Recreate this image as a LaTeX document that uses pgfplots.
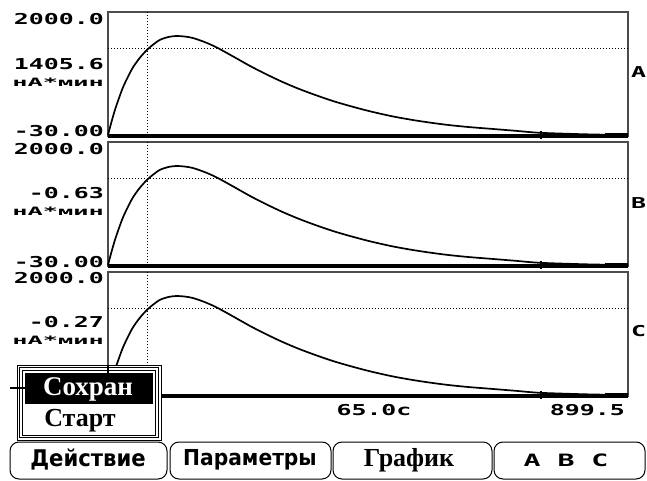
\documentclass[border=0pt]{standalone}
\usepackage{fontspec}
\usepackage{pgfplots}
\usepackage{pgfplotstable}
\pgfplotsset{compat=1.18}
\setmainfont{DejaVu Sans}
\newfontfamily\lcd[FakeStretch=1.66]{DejaVu Sans Mono}
\newfontfamily\lcdsmall[FakeStretch=2.2]{DejaVu Sans Mono}
\newfontfamily\menuserif{Liberation Serif}
\newfontfamily\menusans[FakeStretch=0.92]{DejaVu Sans}

\pgfplotstableread{
x y
0 -12
6 200
12 396
19 590
26 767
34 930
43 1090
55 1250
68 1385
80 1480
90 1545
104 1590
119 1607
133 1598
147 1574
168 1505
188 1420
215 1280
246 1115
275 975
303 850
332 735
362 630
390 540
419 460
453 375
493 290
535 220
580 160
620 120
666 85
705 55
742 25
790 8
839 -5
899.5 -14
}\curve

\pgfplotsset{panel/.style={
  width=520pt, height=124pt, scale only axis,
  xmin=0, xmax=899.5, ymin=-30, ymax=2000,
  xtick=\empty, ytick=\empty,
  axis line style={line width=1.6pt, color=black!70},
  clip=false,
}}

\tikzset{dots/.style={line width=1pt, dash pattern=on 1pt off 2pt, black}}

\newcommand{\panelcontent}{%
  \draw[dots] (axis cs:69,-30) -- (axis cs:69,2000);
  \draw[dots] (axis cs:0,1405.6) -- (axis cs:899.5,1405.6);
  \addplot[black, line width=1.7pt, smooth, tension=0.5] table[x=x,y=y] {\curve};
  \addplot[black, line width=3.5pt, forget plot] coordinates {(0,-30) (899.5,-30)};
  \addplot[black, only marks, mark=+, mark size=4pt, line width=1.6pt] coordinates {(749,-15)};
  \addplot[black, line width=4pt] coordinates {(860,-10) (899.5,-10)};
}

\begin{document}
\begin{tikzpicture}
\useasboundingbox (0pt,0pt) rectangle (647pt,-481pt);
\fill[white] (0pt,0pt) rectangle (647pt,-481pt);

% Panel A
\begin{axis}[panel, at={(108pt,-136pt)}, anchor=south west]
\panelcontent
\end{axis}
% Panel B
\begin{axis}[panel, at={(108pt,-266pt)}, anchor=south west]
\panelcontent
\end{axis}
% Panel C
\begin{axis}[panel, at={(108pt,-396pt)}, anchor=south west]
\panelcontent
\end{axis}

% Left labels
\tikzset{big/.style={anchor=east, inner sep=0pt, font=\lcd\bfseries\fontsize{15}{15}\selectfont},
         small/.style={anchor=east, inner sep=0pt, font=\lcdsmall\bfseries\fontsize{11.5}{11.5}\selectfont}}
\node[big] at (104pt,-19.5pt) {2000.0};
\node[big] at (104pt,-64pt) {1405.6};
\node[small] at (104pt,-82pt) {нА*мин};
\node[big] at (104pt,-131pt) {-30.00};

\node[big] at (104pt,-149pt) {2000.0};
\node[big] at (104pt,-193.5pt) {-0.63};
\node[small] at (104pt,-211.5pt) {нА*мин};
\node[big] at (104pt,-262pt) {-30.00};

\node[big] at (104pt,-278pt) {2000.0};
\node[big] at (104pt,-322pt) {-0.27};
\node[small] at (104pt,-340pt) {нА*мин};

% Right letters
\node[big, anchor=west] at (631pt,-72pt) {A};
\node[big, anchor=west] at (631pt,-203pt) {B};
\node[big, anchor=west] at (631pt,-331pt) {C};

% bottom numbers
\node[big, anchor=center] at (374pt,-410pt) {65.0с};
\node[big] at (625pt,-410pt) {899.5};

% Menu popup
\fill[white] (17pt,-365pt) rectangle (161pt,-440pt);
\draw[line width=0.9pt] (17pt,-365pt) rectangle (161pt,-440pt);
\draw[line width=0.9pt] (19.5pt,-367.5pt) rectangle (158.5pt,-437.5pt);
\draw[line width=0.9pt] (22.5pt,-370pt) rectangle (155.5pt,-435pt);
\draw[line width=1.2pt] (108pt,-365pt) -- (108pt,-374pt);
\fill[black] (25pt,-373pt) rectangle (153pt,-404pt);
\draw[line width=1.2pt] (10pt,-388pt) -- (25pt,-388pt);
\node[white, font=\menuserif\bfseries\fontsize{27}{27}\selectfont, inner sep=0pt] at (88pt,-389pt) {Сохран};
\node[black, font=\menuserif\bfseries\fontsize{26}{26}\selectfont, inner sep=0pt] at (80pt,-421pt) {Старт};

% Buttons
\foreach \a/\b in {10/167, 170/331, 333/492, 494/645}{
  \draw[line width=1pt, rounded corners=9pt] (\a pt,-442pt) rectangle (\b pt,-479pt);
}
\node[font=\menusans\bfseries\fontsize{23}{23}\selectfont, inner sep=0pt] at (88pt,-460pt) {Действие};
\node[font=\menusans\bfseries\fontsize{22}{22}\selectfont, inner sep=0pt] at (250pt,-460pt) {Параметры};
\node[font=\menuserif\bfseries\fontsize{26}{26}\selectfont, inner sep=0pt] at (409pt,-460pt) {График};
\node[font=\lcd\bfseries\fontsize{17}{17}\selectfont, inner sep=0pt] at (566pt,-460pt) {A B C};
\end{tikzpicture}
\end{document}
